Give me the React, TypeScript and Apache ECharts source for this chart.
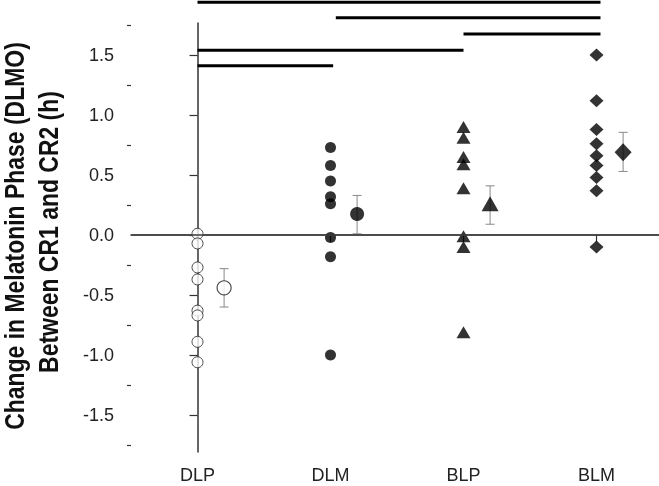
import React, { useEffect, useRef } from "react";
import * as echarts from "echarts";

const categories = ["DLP", "DLM", "BLP", "BLM"];

const dlpValues = [0.01, -0.07, -0.27, -0.37, -0.63, -0.67, -0.89, -1.06];
const dlmValues = [0.73, 0.58, 0.45, 0.32, 0.26, -0.02, -0.18, -1.0];
const blpValues = [0.9, 0.81, 0.65, 0.59, 0.39, -0.01, -0.1, -0.81];
const blmValues = [1.5, 1.12, 0.88, 0.76, 0.66, 0.58, 0.48, 0.37, -0.1];

const groupMeans = [-0.44, 0.175, 0.26, 0.69];
const groupLow = [-0.6, 0.01, 0.09, 0.53];
const groupHigh = [-0.28, 0.33, 0.41, 0.856];

const sigFrom = [0, 1.04, 2, 0, 0];
const sigTo = [3.03, 3.03, 3.03, 2, 1.02];
const sigLevel = [1.94, 1.81, 1.675, 1.54, 1.41];

const yMajorTicks = [-1.5, -1.0, -0.5, 0.0, 0.5, 1.0, 1.5];
const yMinorTicks = [-1.75, -1.25, -0.75, -0.25, 0.25, 0.75, 1.25, 1.75];

const yTitleLines = ["Change in Melatonin Phase (DLMO)", "Between CR1 and CR2 (h)"];

const FONT = "'Liberation Sans', Arial, sans-serif";
const MEAN_OFFSET = 0.2;

export default function App() {
  const ref = useRef<HTMLDivElement>(null);
  useEffect(() => {
    if (!ref.current) return;
    const chart = echarts.init(ref.current, undefined, { renderer: "svg" });
    const pts = (idx: number, vals: number[]) => vals.map((v) => [idx, v]);
    const meanSymbols = [
      { symbol: "circle", symbolSize: 14, itemStyle: { color: "#fff", borderColor: "#222", borderWidth: 1.2 } },
      { symbol: "circle", symbolSize: 14, itemStyle: { color: "#000" } },
      { symbol: "triangle", symbolSize: [17, 15], itemStyle: { color: "#000" } },
      { symbol: "diamond", symbolSize: [17, 18], itemStyle: { color: "#000" } },
    ];
    chart.setOption({
      animation: false,
      graphic: [
        {
          type: "text",
          x: 14,
          y: 236,
          rotation: Math.PI / 2,
          scaleX: 0.82,
          style: {
            text: yTitleLines[0],
            font: "bold 28px 'Liberation Sans', Arial, sans-serif",
            fill: "#111",
            textAlign: "center",
            textVerticalAlign: "middle",
          },
        },
        {
          type: "text",
          x: 48,
          y: 232,
          rotation: Math.PI / 2,
          scaleX: 0.82,
          style: {
            text: yTitleLines[1],
            font: "bold 28px 'Liberation Sans', Arial, sans-serif",
            fill: "#111",
            textAlign: "center",
            textVerticalAlign: "middle",
          },
        },
      ],
      grid: { left: 131, right: -4, top: 23, bottom: 34, containLabel: false, outerBoundsMode: "none" },
      xAxis: {
        type: "value",
        min: -0.5,
        max: 3.5,
        axisLine: { show: true, lineStyle: { color: "#333", width: 1.5 } },
        axisTick: { show: true, length: 7, customValues: [0, 1, 2, 3], lineStyle: { color: "#333", width: 1.2 } },
        axisLabel: {
          customValues: [0, 1, 2, 3],
          formatter: (v: number) => categories[Math.round(v)] ?? "",
          fontFamily: FONT,
          fontSize: 18,
          color: "#222",
          margin: 14,
        },
        splitLine: { show: false },
      },
      yAxis: [
        {
          type: "value",
          min: -1.808,
          max: 1.767,
          position: "left",
          axisLine: { show: true, lineStyle: { color: "#333", width: 1.5 } },
          axisTick: { show: true, length: 8, customValues: yMajorTicks, lineStyle: { color: "#333", width: 1.2 } },
          axisLabel: {
            customValues: yMajorTicks,
            formatter: (v: number) => v.toFixed(1),
            fontFamily: FONT,
            fontSize: 18,
            color: "#222",
            margin: 17,
          },
          splitLine: { show: false },
        },
        {
          type: "value",
          min: -1.808,
          max: 1.767,
          position: "left",
          axisLine: { show: false },
          axisTick: { show: true, length: 4, customValues: yMinorTicks, lineStyle: { color: "#333", width: 1.2 } },
          axisLabel: { show: false },
          splitLine: { show: false },
        },
      ],
      series: [
        {
          type: "scatter",
          data: pts(0, dlpValues),
          symbol: "circle",
          symbolSize: 11,
          itemStyle: { color: "#fff", borderColor: "#222", borderWidth: 1 },
          markLine: {
            silent: true,
            symbol: "none",
            label: { show: false },
            lineStyle: { color: "#444", width: 1.5, type: "solid" },
            data: [{ yAxis: 0 }],
          },
          z: 3,
        },
        { type: "scatter", data: pts(1, dlmValues), symbol: "circle", symbolSize: 11, itemStyle: { color: "#000" }, z: 3 },
        { type: "scatter", data: pts(2, blpValues), symbol: "triangle", symbolSize: [14, 12], itemStyle: { color: "#000" }, z: 3 },
        { type: "scatter", data: pts(3, blmValues), symbol: "diamond", symbolSize: [14, 13], itemStyle: { color: "#000" }, z: 3 },
        {
          type: "custom",
          z: 2,
          encode: { x: 0, y: [1, 2] },
          data: categories.map((_, i) => [i + MEAN_OFFSET, groupLow[i], groupHigh[i]]),
          renderItem: (params: any, api: any) => {
            const x = api.value(0);
            const lo = api.coord([x, api.value(1)]);
            const hi = api.coord([x, api.value(2)]);
            const cap = 4.5;
            const style = { stroke: "#888", lineWidth: 1 };
            return {
              type: "group",
              children: [
                { type: "line", shape: { x1: lo[0], y1: lo[1], x2: hi[0], y2: hi[1] }, style },
                { type: "line", shape: { x1: lo[0] - cap, y1: lo[1], x2: lo[0] + cap, y2: lo[1] }, style },
                { type: "line", shape: { x1: hi[0] - cap, y1: hi[1], x2: hi[0] + cap, y2: hi[1] }, style },
              ],
            };
          },
        },
        {
          type: "scatter",
          z: 4,
          data: categories.map((_, i) => ({ value: [i + MEAN_OFFSET, groupMeans[i]], ...meanSymbols[i] })),
        },
        {
          type: "custom",
          clip: false,
          z: 5,
          encode: { x: [0, 1], y: 2 },
          data: sigLevel.map((y, i) => [sigFrom[i], sigTo[i], y]),
          renderItem: (params: any, api: any) => {
            const a = api.coord([api.value(0), api.value(2)]);
            const b = api.coord([api.value(1), api.value(2)]);
            return {
              type: "line",
              shape: { x1: a[0], y1: a[1], x2: b[0], y2: b[1] },
              style: { stroke: "#000", lineWidth: 3 },
            };
          },
        },
      ],
    });
    return () => chart.dispose();
  }, []);
  return <div ref={ref} style={{ position: "fixed", left: 0, top: 0, width: 659, height: 486 }} />;
}
